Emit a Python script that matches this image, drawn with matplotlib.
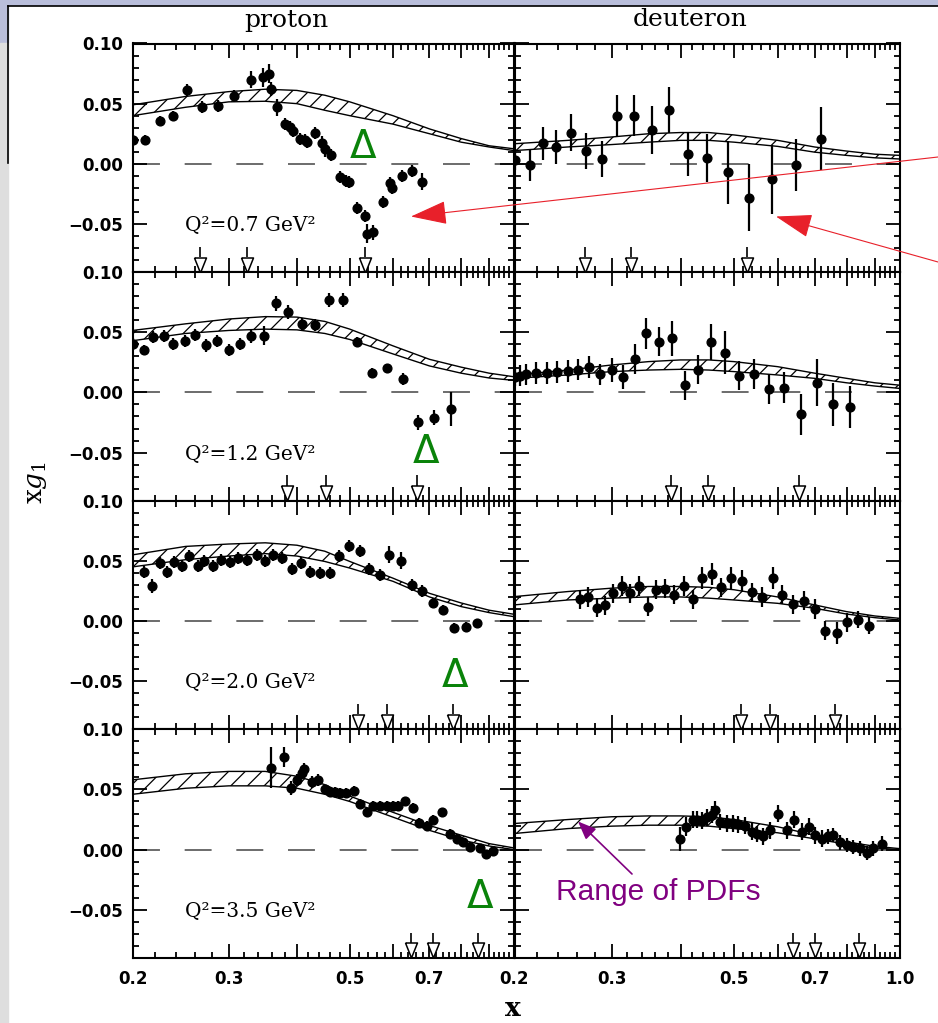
import numpy as np
import matplotlib.pyplot as plt
from matplotlib.patches import Rectangle, FancyArrowPatch
from matplotlib.lines import Line2D
from matplotlib.ticker import FixedLocator, FixedFormatter

plt.rcParams['lines.scale_dashes'] = False
plt.rcParams['hatch.linewidth'] = 0.9
plt.rcParams['mathtext.fontset'] = 'dejavuserif'

# ---- data ----
q2_labels = ['0.7', '1.2', '2.0', '3.5']
band_x = [0.2, 0.25, 0.3, 0.35, 0.4, 0.45, 0.5, 0.6, 0.7, 0.8, 0.9, 1.0]

# Q2 = 0.7
p1_x = [0.200, 0.211, 0.224, 0.237, 0.252, 0.268, 0.287, 0.307, 0.330, 0.347, 0.355, 0.358,
        0.368, 0.380, 0.388, 0.394, 0.405, 0.414, 0.418, 0.432, 0.444, 0.450, 0.462, 0.480,
        0.493, 0.499, 0.515, 0.533, 0.537, 0.552, 0.575, 0.592, 0.597, 0.622, 0.649, 0.677]
p1_y = [0.020, 0.020, 0.036, 0.040, 0.061, 0.047, 0.048, 0.056, 0.070, 0.072, 0.075, 0.062,
        0.047, 0.033, 0.031, 0.027, 0.021, 0.020, 0.018, 0.026, 0.017, 0.012, 0.007, -0.011,
        -0.014, -0.015, -0.037, -0.043, -0.058, -0.057, -0.032, -0.016, -0.020, -0.010, -0.006, -0.015]
p1_e = [0.004, 0.004, 0.004, 0.004, 0.005, 0.005, 0.005, 0.005, 0.007, 0.008, 0.008, 0.006,
        0.007, 0.005, 0.005, 0.005, 0.005, 0.005, 0.005, 0.005, 0.006, 0.006, 0.005, 0.005,
        0.005, 0.005, 0.005, 0.005, 0.008, 0.006, 0.005, 0.005, 0.005, 0.005, 0.005, 0.007]
p1_hi = [0.049, 0.056, 0.060, 0.062, 0.061, 0.057, 0.0515, 0.040, 0.029, 0.021, 0.015, 0.0125]
p1_lo = [0.040, 0.047, 0.0515, 0.052, 0.050, 0.0445, 0.040, 0.033, 0.025, 0.018, 0.014, 0.011]
p1_arr = [0.266, 0.324, 0.533]

d1_x = [0.200, 0.213, 0.225, 0.238, 0.253, 0.270, 0.288, 0.307, 0.329, 0.355, 0.382, 0.413,
        0.447, 0.488, 0.532, 0.586, 0.648, 0.719]
d1_y = [0.003, -0.001, 0.017, 0.014, 0.026, 0.011, 0.004, 0.040, 0.040, 0.028, 0.045, 0.008,
        0.005, -0.007, -0.028, -0.013, -0.001, 0.021]
d1_e = [0.008, 0.013, 0.014, 0.014, 0.015, 0.015, 0.015, 0.017, 0.017, 0.020, 0.019, 0.018,
        0.020, 0.026, 0.028, 0.029, 0.022, 0.026]
d1_hi = [0.0167, 0.0195, 0.0223, 0.025, 0.026, 0.026, 0.024, 0.0195, 0.014, 0.0106, 0.008, 0.007]
d1_lo = [0.011, 0.014, 0.016, 0.018, 0.0195, 0.0195, 0.018, 0.0145, 0.0097, 0.007, 0.005, 0.004]
d1_arr = [0.268, 0.325, 0.527]

# Q2 = 1.2
p2_x = [0.200, 0.210, 0.218, 0.228, 0.237, 0.249, 0.260, 0.273, 0.286, 0.300, 0.314, 0.330,
        0.348, 0.366, 0.386, 0.409, 0.432, 0.458, 0.485, 0.515, 0.550, 0.584, 0.625, 0.668,
        0.713, 0.767]
p2_y = [0.040, 0.035, 0.046, 0.047, 0.040, 0.043, 0.048, 0.039, 0.043, 0.035, 0.040, 0.047,
        0.047, 0.074, 0.067, 0.057, 0.056, 0.077, 0.077, 0.042, 0.016, 0.020, 0.011, -0.025,
        -0.021, -0.014]
p2_e = [0.005, 0.004, 0.005, 0.005, 0.005, 0.005, 0.005, 0.005, 0.005, 0.005, 0.005, 0.006,
        0.008, 0.006, 0.006, 0.005, 0.005, 0.006, 0.006, 0.004, 0.004, 0.004, 0.005, 0.006,
        0.006, 0.014]
p2_hi = [0.0515, 0.057, 0.061, 0.063, 0.0626, 0.059, 0.0526, 0.0387, 0.0275, 0.021, 0.016, 0.013]
p2_lo = [0.043, 0.049, 0.0515, 0.0526, 0.052, 0.049, 0.044, 0.032, 0.022, 0.016, 0.012, 0.010]
p2_arr = [0.384, 0.452, 0.663]

d2_x = [0.200, 0.205, 0.210, 0.219, 0.229, 0.239, 0.250, 0.261, 0.273, 0.286, 0.300, 0.315,
        0.331, 0.347, 0.366, 0.386, 0.408, 0.431, 0.454, 0.482, 0.511, 0.544, 0.579, 0.617,
        0.661, 0.706, 0.755, 0.812]
d2_y = [0.013, 0.014, 0.015, 0.016, 0.016, 0.017, 0.018, 0.019, 0.021, 0.015, 0.019, 0.013,
        0.028, 0.049, 0.042, 0.045, 0.006, 0.019, 0.042, 0.033, 0.014, 0.015, 0.003, 0.004,
        -0.018, 0.008, -0.010, -0.012]
d2_e = [0.008, 0.009, 0.009, 0.009, 0.009, 0.009, 0.009, 0.009, 0.009, 0.009, 0.010, 0.010,
        0.0125, 0.0125, 0.012, 0.0145, 0.012, 0.012, 0.015, 0.018, 0.012, 0.0125, 0.0125, 0.013,
        0.017, 0.0195, 0.018, 0.0175]
d2_hi = [0.0145, 0.0186, 0.0228, 0.0256, 0.027, 0.027, 0.0256, 0.0214, 0.016, 0.0117, 0.008, 0.006]
d2_lo = [0.0117, 0.0145, 0.0173, 0.0186, 0.0192, 0.0186, 0.0173, 0.0145, 0.0117, 0.008, 0.0053, 0.0033]
d2_arr = [0.384, 0.449, 0.656]

# Q2 = 2.0
p3_x = [0.210, 0.217, 0.224, 0.231, 0.238, 0.246, 0.254, 0.263, 0.270, 0.281, 0.290, 0.302,
        0.312, 0.324, 0.338, 0.350, 0.362, 0.375, 0.391, 0.407, 0.423, 0.441, 0.460, 0.478,
        0.498, 0.521, 0.543, 0.568, 0.591, 0.621, 0.649, 0.677, 0.710, 0.742, 0.776, 0.817, 0.854]
p3_y = [0.041, 0.029, 0.048, 0.041, 0.049, 0.046, 0.054, 0.046, 0.050, 0.046, 0.051, 0.049,
        0.052, 0.051, 0.055, 0.050, 0.055, 0.052, 0.043, 0.048, 0.041, 0.040, 0.040, 0.054,
        0.062, 0.058, 0.043, 0.038, 0.055, 0.050, 0.030, 0.025, 0.015, 0.009, -0.006, -0.005, -0.002]
p3_e = [0.005, 0.006, 0.005, 0.005, 0.005, 0.005, 0.005, 0.005, 0.005, 0.005, 0.005, 0.005,
        0.005, 0.005, 0.005, 0.005, 0.005, 0.005, 0.005, 0.005, 0.005, 0.005, 0.005, 0.005,
        0.005, 0.005, 0.005, 0.005, 0.007, 0.007, 0.005, 0.005, 0.004, 0.004, 0.004, 0.004, 0.004]
p3_hi = [0.055, 0.062, 0.064, 0.065, 0.063, 0.058, 0.0495, 0.0356, 0.023, 0.015, 0.009, 0.0056]
p3_lo = [0.045, 0.051, 0.054, 0.056, 0.054, 0.0495, 0.044, 0.033, 0.020, 0.012, 0.007, 0.0036]
p3_arr = [0.518, 0.584, 0.774]

d3_x = [0.263, 0.272, 0.282, 0.292, 0.302, 0.313, 0.324, 0.337, 0.349, 0.361, 0.375, 0.389,
        0.405, 0.421, 0.437, 0.456, 0.474, 0.494, 0.516, 0.539, 0.563, 0.588, 0.612, 0.641,
        0.670, 0.700, 0.732, 0.768, 0.800, 0.840, 0.880]
d3_y = [0.018, 0.020, 0.011, 0.013, 0.023, 0.029, 0.023, 0.029, 0.012, 0.026, 0.027, 0.022,
        0.029, 0.018, 0.036, 0.039, 0.028, 0.036, 0.033, 0.024, 0.020, 0.036, 0.022, 0.014,
        0.017, 0.010, -0.008, -0.010, -0.001, 0.001, -0.004]
d3_e = [0.008, 0.008, 0.008, 0.008, 0.008, 0.008, 0.008, 0.008, 0.008, 0.008, 0.008, 0.008,
        0.008, 0.008, 0.009, 0.009, 0.008, 0.009, 0.009, 0.008, 0.008, 0.009, 0.008, 0.008,
        0.008, 0.008, 0.008, 0.009, 0.008, 0.007, 0.007]
d3_hi = [0.0203, 0.0245, 0.0273, 0.0287, 0.0287, 0.028, 0.026, 0.020, 0.0134, 0.0078, 0.0042, 0.0022]
d3_lo = [0.0134, 0.0175, 0.019, 0.020, 0.020, 0.019, 0.0175, 0.0147, 0.0106, 0.0058, 0.0028, 0.0008]
d3_arr = [0.514, 0.581, 0.762]

# Q2 = 3.5
p4_x = [0.358, 0.379, 0.390, 0.400, 0.408, 0.412, 0.426, 0.438, 0.450, 0.460, 0.470, 0.480,
        0.493, 0.508, 0.522, 0.538, 0.552, 0.568, 0.584, 0.601, 0.614, 0.631, 0.652, 0.671,
        0.694, 0.711, 0.737, 0.763, 0.785, 0.808, 0.831, 0.867, 0.889, 0.917]
p4_y = [0.068, 0.077, 0.051, 0.058, 0.064, 0.067, 0.056, 0.058, 0.050, 0.048, 0.048, 0.047,
        0.047, 0.049, 0.038, 0.031, 0.036, 0.036, 0.036, 0.036, 0.036, 0.040, 0.035, 0.022,
        0.020, 0.025, 0.031, 0.013, 0.009, 0.006, 0.002, 0.001, -0.004, -0.001]
p4_e = [0.017, 0.008, 0.006, 0.005, 0.005, 0.005, 0.005, 0.005, 0.004, 0.004, 0.004, 0.004,
        0.004, 0.004, 0.004, 0.004, 0.004, 0.004, 0.004, 0.004, 0.004, 0.004, 0.004, 0.004,
        0.004, 0.004, 0.004, 0.004, 0.004, 0.004, 0.004, 0.004, 0.004, 0.004]
p4_hi = [0.058, 0.063, 0.065, 0.065, 0.061, 0.054, 0.0445, 0.031, 0.020, 0.012, 0.005, 0.0014]
p4_lo = [0.046, 0.051, 0.053, 0.053, 0.051, 0.046, 0.040, 0.027, 0.016, 0.008, 0.003, 0.000]
p4_arr = [0.647, 0.711, 0.860]

d4_x = [0.399, 0.410, 0.421, 0.428, 0.437, 0.446, 0.457, 0.462, 0.472, 0.485, 0.499, 0.509,
        0.524, 0.538, 0.550, 0.565, 0.581, 0.602, 0.623, 0.642, 0.663, 0.685, 0.701, 0.721,
        0.741, 0.757, 0.778, 0.800, 0.823, 0.846, 0.870, 0.894, 0.926]
d4_y = [0.009, 0.019, 0.025, 0.025, 0.024, 0.027, 0.029, 0.033, 0.023, 0.022, 0.022, 0.021,
        0.020, 0.015, 0.013, 0.011, 0.016, 0.030, 0.016, 0.025, 0.015, 0.019, 0.012, 0.009,
        0.011, 0.012, 0.006, 0.004, 0.002, 0.001, -0.003, 0.001, 0.005]
d4_e = [0.010, 0.008, 0.007, 0.007, 0.007, 0.007, 0.007, 0.007, 0.007, 0.007, 0.007, 0.007,
        0.007, 0.007, 0.007, 0.007, 0.007, 0.007, 0.007, 0.007, 0.007, 0.007, 0.007, 0.007,
        0.006, 0.006, 0.006, 0.006, 0.006, 0.006, 0.006, 0.006, 0.006]
d4_hi = [0.0217, 0.025, 0.0273, 0.028, 0.028, 0.0273, 0.025, 0.019, 0.012, 0.0064, 0.0028, 0.0008]
d4_lo = [0.0134, 0.0175, 0.0195, 0.0203, 0.0203, 0.0195, 0.0175, 0.014, 0.009, 0.0045, 0.0014, 0.0]
d4_arr = [0.641, 0.701, 0.844]

proton = [(p1_x, p1_y, p1_e, p1_hi, p1_lo, p1_arr),
          (p2_x, p2_y, p2_e, p2_hi, p2_lo, p2_arr),
          (p3_x, p3_y, p3_e, p3_hi, p3_lo, p3_arr),
          (p4_x, p4_y, p4_e, p4_hi, p4_lo, p4_arr)]
deuteron = [(d1_x, d1_y, d1_e, d1_hi, d1_lo, d1_arr),
            (d2_x, d2_y, d2_e, d2_hi, d2_lo, d2_arr),
            (d3_x, d3_y, d3_e, d3_hi, d3_lo, d3_arr),
            (d4_x, d4_y, d4_e, d4_hi, d4_lo, d4_arr)]

# ---- figure ----
W, H = 938, 1023
fig = plt.figure(figsize=(W / 100, H / 100), dpi=100)


def fx(px):
    return px / W


def fy(py):
    return 1 - py / H


# slide background pieces
lav = '#B9BEDB'
fig.add_artist(Rectangle((0, fy(5)), 1, 5 / H, transform=fig.transFigure,
                         color=lav, zorder=-5))
fig.add_artist(Rectangle((0, fy(43)), fx(8), 43 / H, transform=fig.transFigure,
                         color=lav, zorder=-5))
fig.add_artist(Rectangle((0, 0), fx(8), fy(43), transform=fig.transFigure,
                         color='#DEDEDE', zorder=-5))
fig.add_artist(Line2D([fx(8), 1], [fy(5.5), fy(5.5)], transform=fig.transFigure,
                      color='k', lw=1.2, zorder=-4))
fig.add_artist(Line2D([fx(8), fx(8)], [fy(5.5), fy(163)], transform=fig.transFigure,
                      color='k', lw=1.2, zorder=-4))

col_left = [132.7, 514.5]
col_width = [381.3, 385.5]
row_top = 43.5
row_h = 228.6

xmaj = [0.2, 0.3, 0.4, 0.5, 0.6, 0.7, 0.8, 0.9, 1.0]
xmin = [v for v in np.round(np.arange(0.22, 1.0, 0.02), 2) if round(v * 10, 6) % 1 != 0]
ymaj = [-0.05, 0.0, 0.05, 0.10]
ymin = list(np.round(np.arange(-0.09, 0.101, 0.01), 2))

tri = [(-0.8, 1), (0.8, 1), (0, -1), (-0.8, 1)]

for i in range(4):
    for j, sets in enumerate([proton, deuteron]):
        x, y, e, hi, lo, arr = sets[i]
        top = row_top + row_h * i
        ax = fig.add_axes([fx(col_left[j]), fy(top + row_h), col_width[j] / W, row_h / H])
        ax.set_xscale('log')
        ax.set_xlim(0.2, 1.0)
        ax.set_ylim(-0.09, 0.10)

        ax.axhline(0, color='#606060', lw=1.3, dashes=(19.4, 17.8), zorder=1)
        ax.fill_between(band_x, lo, hi, facecolor='none', edgecolor='k',
                        hatch='//', linewidth=0, zorder=2)
        ax.plot(band_x, hi, color='k', lw=1.0, zorder=2)
        ax.plot(band_x, lo, color='k', lw=1.0, zorder=2)
        ax.errorbar(x, y, yerr=e, fmt='o', color='k', ms=6.3, elinewidth=1.6,
                    capsize=0, zorder=3)
        ax.vlines(arr, -0.0775, -0.069, color='k', lw=1.2, zorder=3)
        ax.plot(arr, [-0.0838] * len(arr), ls='none', marker=tri, ms=10.8,
                mfc='white', mec='k', mew=1.1, zorder=3)

        if j == 0:
            ax.text(0.249, -0.0515, 'Q²=' + q2_labels[i] + ' GeV²', ha='left', va='center',
                    family='DejaVu Serif', fontsize=14.5)

        ax.xaxis.set_major_locator(FixedLocator(xmaj))
        ax.xaxis.set_minor_locator(FixedLocator(xmin))
        ax.yaxis.set_major_locator(FixedLocator(ymaj))
        ax.yaxis.set_minor_locator(FixedLocator(ymin))
        ax.xaxis.set_minor_formatter(FixedFormatter([''] * len(xmin)))
        if i == 3:
            xl = ['0.2', '0.3', '', '0.5', '', '0.7', '', '', '1.0' if j == 1 else '']
        else:
            xl = [''] * len(xmaj)
        ax.xaxis.set_major_formatter(FixedFormatter(xl))
        if j == 0:
            yl = ['\u22120.05', '0.00', '0.05', '0.10']
        else:
            yl = [''] * 4
        ax.yaxis.set_major_formatter(FixedFormatter(yl))
        ax.tick_params(which='both', direction='in', top=True, right=True, width=1.3,
                       labelsize=12, pad=7)
        ax.tick_params(which='major', length=10)
        ax.tick_params(which='minor', length=4.5)
        ax.tick_params(axis='x', pad=9)
        for lab in ax.get_xticklabels() + ax.get_yticklabels():
            lab.set_fontweight('bold')
        for s in ax.spines.values():
            s.set_linewidth(1.5)

# titles and axis labels
fig.text(fx(286), fy(20), 'proton', ha='center', va='center', family='DejaVu Serif', fontsize=18)
fig.text(fx(690), fy(20), 'deuteron', ha='center', va='center', family='DejaVu Serif', fontsize=18)
fig.text(fx(36), fy(483), r'$\mathrm{x}g_1$', rotation=90, ha='center', va='center', fontsize=19)
fig.text(fx(513), fy(1008), 'x', ha='center', va='center', family='DejaVu Serif',
         fontsize=19, weight='bold')

# green Delta marks
for cx, by in [(363, 158), (426, 463), (455, 687), (480, 908)]:
    fig.text(fx(cx), fy(by), '\u0394', ha='center', va='baseline', color='#0A830A',
             fontsize=28, family='DejaVu Sans')

# red arrows
for (x0, y0), (x1, y1) in [((938, 157), (411, 216.5)), ((938, 262), (776, 216.5))]:
    fig.add_artist(FancyArrowPatch((fx(x0), fy(y0)), (fx(x1), fy(y1)),
                                   transform=fig.transFigure,
                                   arrowstyle='-|>,head_length=23,head_width=7.5',
                                   mutation_scale=1, color='#E8202A', lw=0.8,
                                   shrinkA=0, shrinkB=0, zorder=10))

# purple annotation
fig.add_artist(FancyArrowPatch((fx(632), fy(874)), (fx(578), fy(821.5)),
                               transform=fig.transFigure,
                               arrowstyle='-|>,head_length=11,head_width=4.5',
                               mutation_scale=1, color='#800080', lw=1.2,
                               shrinkA=0, shrinkB=0, zorder=10))
fig.text(fx(556), fy(900), 'Range of PDFs', ha='left', va='baseline', color='#800080',
         fontsize=21.5, family='Liberation Sans')

fig.savefig('out.png', dpi=100)
